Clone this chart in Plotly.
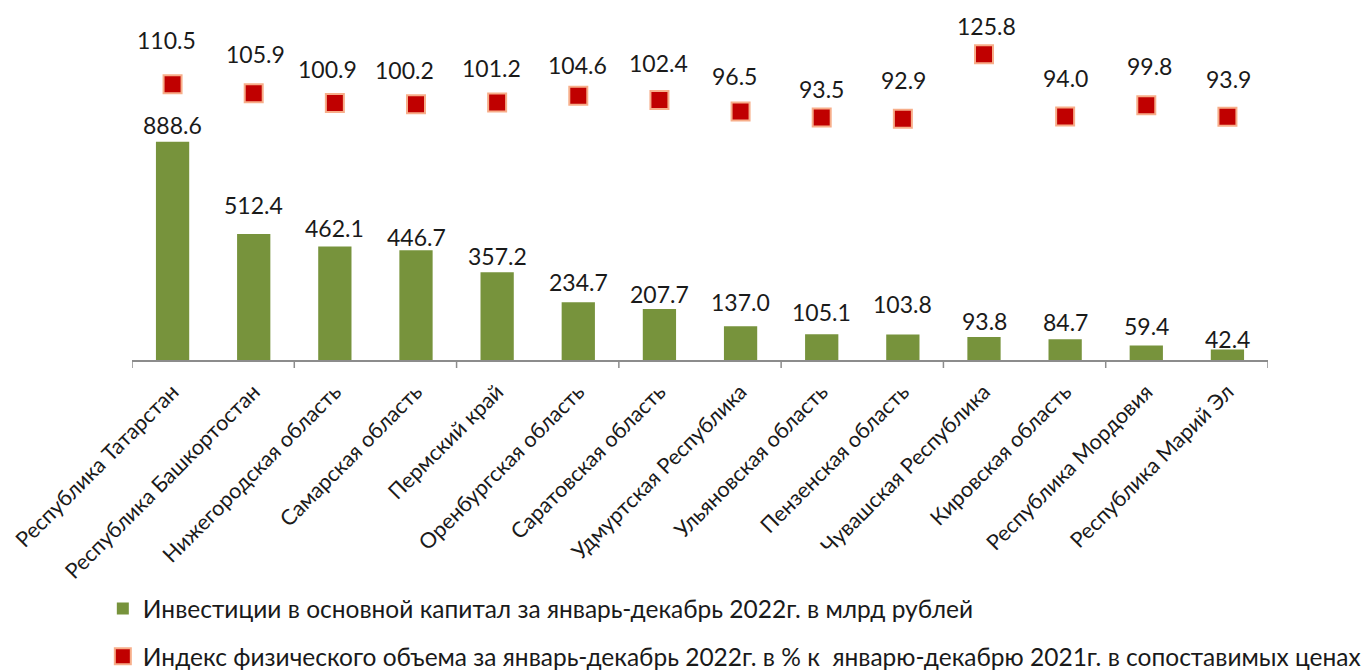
import plotly.graph_objects as go

# ---- data ----
regions = [
    "Республика Татарстан", "Республика Башкортостан", "Нижегородская область",
    "Самарская область", "Пермский край", "Оренбургская область",
    "Саратовская область", "Удмуртская Республика", "Ульяновская область",
    "Пензенская область", "Чувашская Республика", "Кировская область",
    "Республика Мордовия", "Республика Марий Эл",
]
investments = [888.6, 512.4, 462.1, 446.7, 357.2, 234.7, 207.7, 137.0, 105.1, 103.8, 93.8, 84.7, 59.4, 42.4]
volume_index = [110.5, 105.9, 100.9, 100.2, 101.2, 104.6, 102.4, 96.5, 93.5, 92.9, 125.8, 94.0, 99.8, 93.9]
bar_name = "Инвестиции в основной капитал за январь-декабрь 2022г. в млрд рублей"
marker_name = "Индекс физического объема за январь-декабрь 2022г. в % к  январю-декабрю 2021г. в сопоставимых ценах"

# ---- label placement (pixel offsets, style only) ----
bar_label_lift = [17, 29, 18, 13, 16, 20, 15, 24, 22, 31, 16, 17, 19, 11]
marker_label_lift = [44, 39, 34, 34, 34, 31, 37, 36, 28, 39, 28, 39, 39, 38]
marker_label_dx = [-6, 2, -7, -12, -6, -1, -1, -6, 0, 1, 2, 0, 3, 1]

FONT = "Lato"
TXT = "#1a1a1a"
BAR_COLOR = "#77933C"
MARK_COLOR = "#C00000"
MARK_EDGE = "#F7AE8A"

fig = go.Figure()
fig.add_trace(go.Bar(
    x=regions, y=investments, name=bar_name, yaxis="y",
    marker=dict(color=BAR_COLOR, line=dict(width=0)),
    width=0.41, legendgroup="a", hoverinfo="x+y",
))
fig.add_trace(go.Scatter(
    x=regions, y=volume_index, name=marker_name, yaxis="y2", mode="markers",
    marker=dict(symbol="square", size=18, color=MARK_COLOR, line=dict(color=MARK_EDGE, width=2)),
    legendgroup="b", hoverinfo="x+y",
))

annotations = []
for i, (r, v) in enumerate(zip(regions, investments)):
    annotations.append(dict(
        x=r, y=v, xref="x", yref="y", text=f"{v:.1f}", showarrow=False,
        yanchor="middle", yshift=bar_label_lift[i],
        font=dict(family=FONT, size=23, color=TXT),
    ))
for i, (r, v) in enumerate(zip(regions, volume_index)):
    annotations.append(dict(
        x=r, y=v, xref="x", yref="y2", text=f"{v:.1f}", showarrow=False,
        yanchor="middle", yshift=marker_label_lift[i], xshift=marker_label_dx[i],
        font=dict(family=FONT, size=23, color=TXT),
    ))

# tick marks every second category boundary (Excel style)
shapes = []
for b in range(0, len(regions) + 1, 2):
    shapes.append(dict(
        type="line", xref="x", yref="paper", x0=b - 0.5, x1=b - 0.5,
        ysizemode="pixel", yanchor=0, y0=0, y1=-8,
        line=dict(color="#8C8C8C", width=1.5),
    ))

fig.update_layout(
    width=1371, height=672,
    margin=dict(l=132, r=103, t=20, b=312, autoexpand=False),
    paper_bgcolor="white", plot_bgcolor="white",
    font=dict(family=FONT, size=20, color=TXT),
    showlegend=True,
    bargap=0.59,
    xaxis=dict(
        type="category", range=[-0.5, len(regions) - 0.5], automargin=False,
        showline=True, linecolor="#8C8C8C", linewidth=1.5,
        ticks="", tickangle=-45, ticklabelstandoff=9,
        showgrid=False, zeroline=False,
        tickfont=dict(family=FONT, size=21.5, color=TXT),
    ),
    yaxis=dict(range=[0, 1384], visible=False, showgrid=False, zeroline=False),
    yaxis2=dict(range=[-30.4, 143.3], overlaying="y", side="right", visible=False,
                showgrid=False, zeroline=False),
    legend=dict(
        xref="container", yref="container",
        x=0.075, y=1 - 586 / 672, xanchor="left", yanchor="top",
        orientation="v", traceorder="grouped", tracegroupgap=13,
        font=dict(family=FONT, size=24.5, color=TXT),
        bgcolor="rgba(0,0,0,0)",
    ),
    annotations=annotations,
    shapes=shapes,
)

fig.write_html("out.html", config={"displayModeBar": False},
               post_script="document.body.style.margin='0px';")
